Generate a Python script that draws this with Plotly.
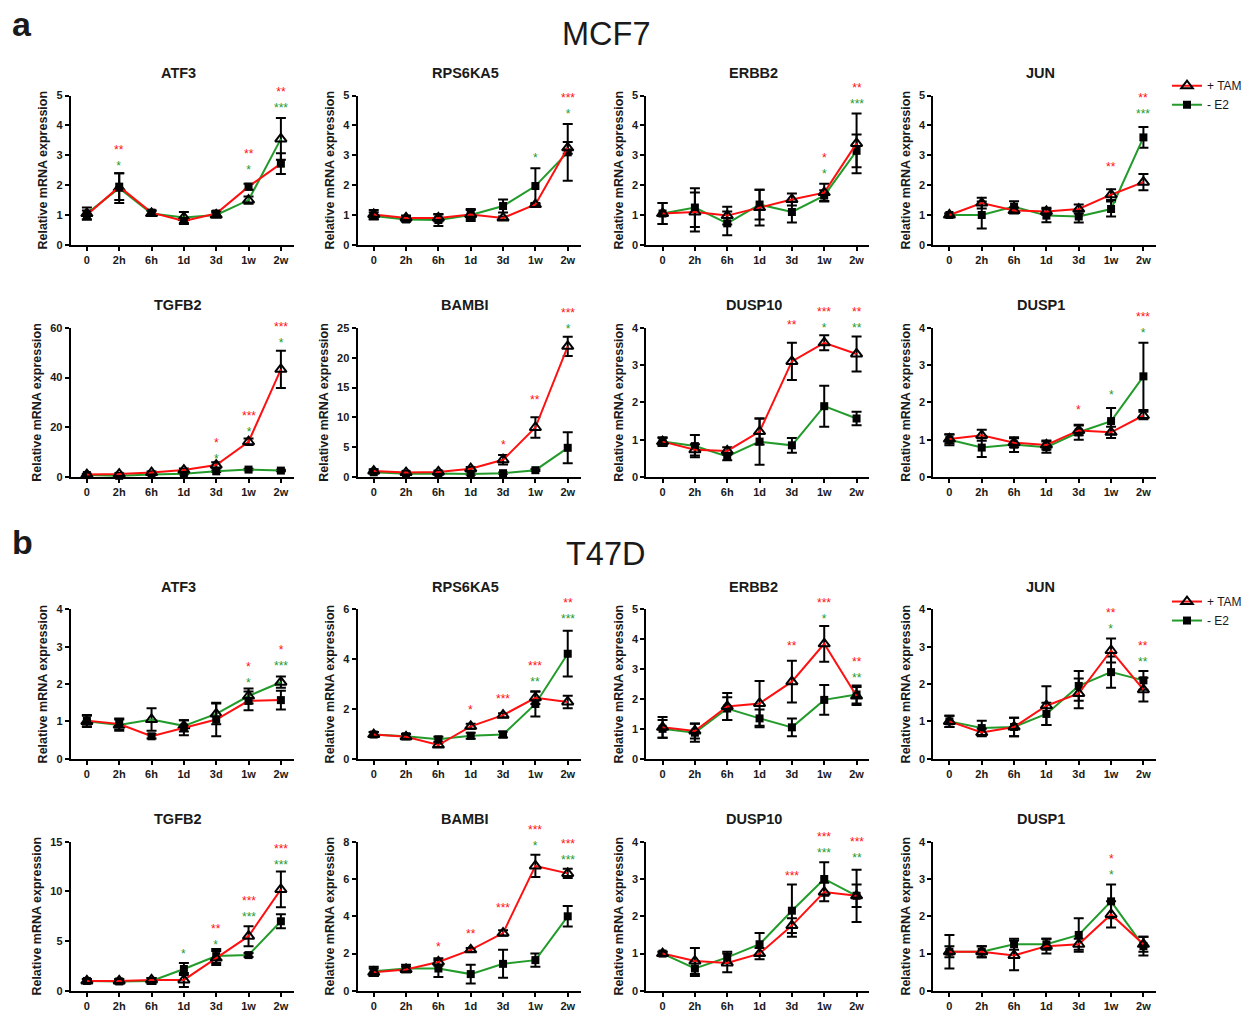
import plotly.graph_objects as go

W, H = 1247, 1013

TIMEPOINTS = ["0", "2h", "6h", "1d", "3d", "1w", "2w"]
SERIES = ["+ TAM", "- E2"]
CELL_LINES = ["MCF7", "T47D"]
PANEL_TAGS = ["a", "b"]

# ---------------- MCF7 ----------------
mcf7_atf3_tam = [1.0, 1.95, 1.08, 0.8, 1.05, 1.95, 2.72]
mcf7_atf3_tam_sem = [0.15, 0.45, 0.08, 0.1, 0.08, 0.1, 0.35]
mcf7_atf3_e2 = [1.05, 1.9, 1.05, 0.92, 1.0, 1.5, 3.55]
mcf7_atf3_e2_sem = [0.2, 0.5, 0.08, 0.18, 0.08, 0.12, 0.7]
mcf7_atf3_sig = [(1, "**", "tam", 3.2), (1, "*", "e2", 2.85), (5, "**", "tam", 3.1),
                 (5, "*", "e2", 2.65), (6, "**", "tam", 5.2), (6, "***", "e2", 4.7)]

mcf7_rps6ka5_tam = [1.02, 0.9, 0.9, 1.02, 0.9, 1.35, 3.25]
mcf7_rps6ka5_tam_sem = [0.15, 0.08, 0.12, 0.15, 0.05, 0.05, 0.2]
mcf7_rps6ka5_e2 = [0.97, 0.85, 0.83, 1.0, 1.3, 1.97, 3.1]
mcf7_rps6ka5_e2_sem = [0.12, 0.08, 0.2, 0.2, 0.22, 0.6, 0.95]
mcf7_rps6ka5_sig = [(5, "*", "e2", 3.0), (6, "***", "tam", 4.93), (6, "*", "e2", 4.55)]

mcf7_erbb2_tam = [1.05, 1.1, 0.98, 1.25, 1.52, 1.75, 3.4]
mcf7_erbb2_tam_sem = [0.35, 0.65, 0.3, 0.6, 0.2, 0.3, 1.0]
mcf7_erbb2_e2 = [1.05, 1.25, 0.72, 1.35, 1.1, 1.65, 3.15]
mcf7_erbb2_e2_sem = [0.35, 0.65, 0.4, 0.5, 0.35, 0.18, 0.55]
mcf7_erbb2_sig = [(5, "*", "tam", 3.0), (5, "*", "e2", 2.5), (6, "**", "tam", 5.3),
                  (6, "***", "e2", 4.85)]

mcf7_jun_tam = [1.0, 1.4, 1.15, 1.12, 1.2, 1.68, 2.1]
mcf7_jun_tam_sem = [0.05, 0.18, 0.1, 0.12, 0.15, 0.18, 0.27]
mcf7_jun_e2 = [1.0, 1.0, 1.28, 0.98, 0.95, 1.2, 3.6]
mcf7_jun_e2_sem = [0.05, 0.45, 0.18, 0.22, 0.2, 0.25, 0.35]
mcf7_jun_sig = [(5, "**", "tam", 2.7), (6, "**", "tam", 5.0), (6, "***", "e2", 4.5)]

mcf7_tgfb2_tam = [1.0, 1.2, 1.8, 2.8, 4.8, 14.2, 43.3]
mcf7_tgfb2_tam_sem = [0.3, 0.3, 0.4, 0.6, 1.2, 1.3, 7.5]
mcf7_tgfb2_e2 = [0.8, 0.5, 1.0, 1.3, 2.3, 3.0, 2.6]
mcf7_tgfb2_e2_sem = [0.2, 0.2, 0.2, 0.2, 0.3, 0.3, 0.3]
mcf7_tgfb2_sig = [(4, "*", "tam", 14.3), (4, "*", "e2", 9.3), (5, "***", "tam", 24.5),
                  (5, "*", "e2", 20.3), (6, "***", "tam", 60.9), (6, "*", "e2", 56.0)]

mcf7_bambi_tam = [1.0, 0.75, 0.85, 1.4, 2.9, 8.3, 21.9]
mcf7_bambi_tam_sem = [0.3, 0.2, 0.2, 0.3, 0.8, 1.7, 1.6]
mcf7_bambi_e2 = [0.8, 0.55, 0.6, 0.5, 0.65, 1.15, 4.9]
mcf7_bambi_e2_sem = [0.2, 0.2, 0.2, 0.1, 0.1, 0.15, 2.6]
mcf7_bambi_sig = [(4, "*", "tam", 5.8), (5, "**", "tam", 13.4), (6, "***", "tam", 27.5),
                  (6, "*", "e2", 25.7)]

mcf7_dusp10_tam = [0.95, 0.73, 0.7, 1.22, 3.1, 3.6, 3.3]
mcf7_dusp10_tam_sem = [0.1, 0.15, 0.1, 0.35, 0.5, 0.2, 0.47]
mcf7_dusp10_e2 = [0.95, 0.83, 0.55, 0.95, 0.85, 1.9, 1.57]
mcf7_dusp10_e2_sem = [0.12, 0.3, 0.1, 0.62, 0.2, 0.55, 0.18]
mcf7_dusp10_sig = [(4, "**", "tam", 4.15), (5, "***", "tam", 4.46), (5, "*", "e2", 4.13),
                   (6, "**", "tam", 4.46), (6, "**", "e2", 4.12)]

mcf7_dusp1_tam = [1.02, 1.12, 0.92, 0.86, 1.25, 1.2, 1.65]
mcf7_dusp1_tam_sem = [0.12, 0.15, 0.12, 0.12, 0.13, 0.15, 0.1]
mcf7_dusp1_e2 = [1.0, 0.79, 0.87, 0.8, 1.2, 1.5, 2.7]
mcf7_dusp1_e2_sem = [0.15, 0.25, 0.2, 0.15, 0.2, 0.35, 0.9]
mcf7_dusp1_sig = [(4, "*", "tam", 1.87), (5, "*", "e2", 2.29), (6, "***", "tam", 4.36),
                  (6, "*", "e2", 3.98)]

# ---------------- T47D ----------------
t47d_atf3_tam = [1.02, 0.93, 0.6, 0.83, 1.05, 1.55, 1.57]
t47d_atf3_tam_sem = [0.15, 0.15, 0.06, 0.2, 0.45, 0.25, 0.25]
t47d_atf3_e2 = [1.0, 0.9, 1.05, 0.88, 1.2, 1.68, 2.05]
t47d_atf3_e2_sem = [0.15, 0.15, 0.3, 0.15, 0.28, 0.2, 0.15]
t47d_atf3_sig = [(5, "*", "tam", 2.47), (5, "*", "e2", 2.16), (6, "*", "tam", 3.0),
                 (6, "***", "e2", 2.58)]

t47d_rps6ka5_tam = [0.97, 0.88, 0.55, 1.3, 1.75, 2.45, 2.28]
t47d_rps6ka5_tam_sem = [0.1, 0.1, 0.08, 0.1, 0.08, 0.25, 0.25]
t47d_rps6ka5_e2 = [0.97, 0.9, 0.78, 0.92, 0.97, 2.2, 4.22]
t47d_rps6ka5_e2_sem = [0.1, 0.1, 0.1, 0.12, 0.12, 0.5, 0.92]
t47d_rps6ka5_sig = [(3, "*", "tam", 2.09), (4, "***", "tam", 2.52), (5, "***", "tam", 3.81),
                    (5, "**", "e2", 3.28), (6, "**", "tam", 6.33), (6, "***", "e2", 5.77)]

t47d_erbb2_tam = [1.05, 0.93, 1.75, 1.85, 2.58, 3.85, 2.1]
t47d_erbb2_tam_sem = [0.35, 0.25, 0.45, 0.75, 0.7, 0.6, 0.3]
t47d_erbb2_e2 = [1.0, 0.87, 1.68, 1.35, 1.05, 1.97, 2.15]
t47d_erbb2_e2_sem = [0.3, 0.3, 0.38, 0.3, 0.3, 0.5, 0.3]
t47d_erbb2_sig = [(4, "**", "tam", 3.89), (5, "***", "tam", 5.24), (5, "*", "e2", 4.88),
                  (6, "**", "tam", 3.28), (6, "**", "e2", 2.89)]

t47d_jun_tam = [1.0, 0.7, 0.85, 1.42, 1.75, 2.9, 1.85]
t47d_jun_tam_sem = [0.15, 0.1, 0.25, 0.52, 0.4, 0.32, 0.32]
t47d_jun_e2 = [1.0, 0.82, 0.85, 1.2, 1.95, 2.32, 2.1]
t47d_jun_e2_sem = [0.15, 0.2, 0.25, 0.3, 0.4, 0.42, 0.25]
t47d_jun_sig = [(5, "**", "tam", 3.96), (5, "*", "e2", 3.6), (6, "**", "tam", 3.09),
                (6, "**", "e2", 2.69)]

t47d_tgfb2_tam = [1.0, 1.0, 1.1, 1.1, 3.3, 5.5, 10.2]
t47d_tgfb2_tam_sem = [0.2, 0.2, 0.2, 0.7, 0.7, 1.0, 1.8]
t47d_tgfb2_e2 = [1.0, 0.95, 1.0, 2.2, 3.5, 3.6, 7.0]
t47d_tgfb2_e2_sem = [0.2, 0.2, 0.3, 0.6, 0.7, 0.2, 0.7]
t47d_tgfb2_sig = [(3, "*", "e2", 4.0), (4, "**", "tam", 6.4), (4, "*", "e2", 5.0),
                  (5, "***", "tam", 9.2), (5, "***", "e2", 7.9), (6, "***", "tam", 14.3),
                  (6, "***", "e2", 13.2)]

t47d_bambi_tam = [1.0, 1.15, 1.55, 2.2, 3.1, 6.7, 6.3]
t47d_bambi_tam_sem = [0.2, 0.15, 0.2, 0.1, 0.15, 0.6, 0.25]
t47d_bambi_e2 = [1.05, 1.2, 1.2, 0.9, 1.45, 1.65, 4.0]
t47d_bambi_e2_sem = [0.25, 0.2, 0.45, 0.5, 0.75, 0.35, 0.55]
t47d_bambi_sig = [(2, "*", "tam", 2.5), (3, "**", "tam", 3.2), (4, "***", "tam", 4.6),
                  (5, "***", "tam", 8.7), (5, "*", "e2", 8.0), (6, "***", "tam", 7.95),
                  (6, "***", "e2", 7.3)]

t47d_dusp10_tam = [1.0, 0.8, 0.75, 1.0, 1.75, 2.65, 2.55]
t47d_dusp10_tam_sem = [0.05, 0.35, 0.25, 0.15, 0.2, 0.25, 0.7]
t47d_dusp10_e2 = [1.0, 0.6, 0.9, 1.25, 2.15, 3.0, 2.55]
t47d_dusp10_e2_sem = [0.05, 0.2, 0.15, 0.3, 0.7, 0.45, 0.3]
t47d_dusp10_sig = [(4, "***", "tam", 3.17), (5, "***", "tam", 4.16), (5, "***", "e2", 3.84),
                   (6, "***", "tam", 4.03), (6, "**", "e2", 3.68)]

t47d_dusp1_tam = [1.05, 1.05, 0.95, 1.2, 1.25, 2.05, 1.25]
t47d_dusp1_tam_sem = [0.45, 0.15, 0.4, 0.2, 0.15, 0.35, 0.2]
t47d_dusp1_e2 = [1.05, 1.05, 1.25, 1.25, 1.5, 2.4, 1.2]
t47d_dusp1_e2_sem = [0.15, 0.15, 0.15, 0.15, 0.45, 0.45, 0.25]
t47d_dusp1_sig = [(5, "*", "tam", 3.57), (5, "*", "e2", 3.25)]

# (gene, tam, tam_sem, e2, e2_sem, significance, y max, y tick step, tam drawn with squares)
PANELS = [
    ("ATF3", mcf7_atf3_tam, mcf7_atf3_tam_sem, mcf7_atf3_e2, mcf7_atf3_e2_sem, mcf7_atf3_sig, 5, 1, True),
    ("RPS6KA5", mcf7_rps6ka5_tam, mcf7_rps6ka5_tam_sem, mcf7_rps6ka5_e2, mcf7_rps6ka5_e2_sem, mcf7_rps6ka5_sig, 5, 1, False),
    ("ERBB2", mcf7_erbb2_tam, mcf7_erbb2_tam_sem, mcf7_erbb2_e2, mcf7_erbb2_e2_sem, mcf7_erbb2_sig, 5, 1, False),
    ("JUN", mcf7_jun_tam, mcf7_jun_tam_sem, mcf7_jun_e2, mcf7_jun_e2_sem, mcf7_jun_sig, 5, 1, False),
    ("TGFB2", mcf7_tgfb2_tam, mcf7_tgfb2_tam_sem, mcf7_tgfb2_e2, mcf7_tgfb2_e2_sem, mcf7_tgfb2_sig, 60, 20, False),
    ("BAMBI", mcf7_bambi_tam, mcf7_bambi_tam_sem, mcf7_bambi_e2, mcf7_bambi_e2_sem, mcf7_bambi_sig, 25, 5, False),
    ("DUSP10", mcf7_dusp10_tam, mcf7_dusp10_tam_sem, mcf7_dusp10_e2, mcf7_dusp10_e2_sem, mcf7_dusp10_sig, 4, 1, False),
    ("DUSP1", mcf7_dusp1_tam, mcf7_dusp1_tam_sem, mcf7_dusp1_e2, mcf7_dusp1_e2_sem, mcf7_dusp1_sig, 4, 1, False),
    ("ATF3", t47d_atf3_tam, t47d_atf3_tam_sem, t47d_atf3_e2, t47d_atf3_e2_sem, t47d_atf3_sig, 4, 1, True),
    ("RPS6KA5", t47d_rps6ka5_tam, t47d_rps6ka5_tam_sem, t47d_rps6ka5_e2, t47d_rps6ka5_e2_sem, t47d_rps6ka5_sig, 6, 2, False),
    ("ERBB2", t47d_erbb2_tam, t47d_erbb2_tam_sem, t47d_erbb2_e2, t47d_erbb2_e2_sem, t47d_erbb2_sig, 5, 1, False),
    ("JUN", t47d_jun_tam, t47d_jun_tam_sem, t47d_jun_e2, t47d_jun_e2_sem, t47d_jun_sig, 4, 1, False),
    ("TGFB2", t47d_tgfb2_tam, t47d_tgfb2_tam_sem, t47d_tgfb2_e2, t47d_tgfb2_e2_sem, t47d_tgfb2_sig, 15, 5, False),
    ("BAMBI", t47d_bambi_tam, t47d_bambi_tam_sem, t47d_bambi_e2, t47d_bambi_e2_sem, t47d_bambi_sig, 8, 2, False),
    ("DUSP10", t47d_dusp10_tam, t47d_dusp10_tam_sem, t47d_dusp10_e2, t47d_dusp10_e2_sem, t47d_dusp10_sig, 4, 1, False),
    ("DUSP1", t47d_dusp1_tam, t47d_dusp1_tam_sem, t47d_dusp1_e2, t47d_dusp1_e2_sem, t47d_dusp1_sig, 4, 1, False),
]

RED = "#ff1010"
GREEN = "#239b2b"
INK = "#1a1a1a"
FONT = "Liberation Sans, Arial, sans-serif"

# Pixel geometry of the 4x4 grid of plot areas
COL_LEFT = [71, 359, 649, 937]
PLOT_W = 224
ROW_TOP = [90.7, 325.7, 610.7, 845.7]
PLOT_H = 151


def px_x(x):
    return x / W


def px_y(y):
    return 1 - y / H


TRIANGLE = dict(symbol="triangle-up-open", size=10, color="black", line=dict(width=2, color="black"))
SQUARE = dict(symbol="square", size=8, color="black")

fig = go.Figure()
layout = dict(
    width=W, height=H, margin=dict(l=0, r=0, t=0, b=0),
    paper_bgcolor="white", plot_bgcolor="white",
    font=dict(family=FONT, color=INK),
    showlegend=True,
)
annotations = []

for i, (gene, tam, tam_sem, e2, e2_sem, sig, ymax, dtick, tam_square) in enumerate(PANELS):
    n = i + 1
    row, col = divmod(i, 4)
    suffix = "" if n == 1 else str(n)
    xa, ya = f"x{suffix}", f"y{suffix}"
    x0, x1 = px_x(COL_LEFT[col]), px_x(COL_LEFT[col] + PLOT_W)
    y1, y0 = px_y(ROW_TOP[row]), px_y(ROW_TOP[row] + PLOT_H)

    tam_marker = SQUARE if tam_square else TRIANGLE
    e2_marker = TRIANGLE if tam_square else SQUARE

    legend_id = None
    if gene == "JUN":
        legend_id = "legend" if row == 0 else "legend2"

    for name, vals, sem, color, marker in [
        (SERIES[1], e2, e2_sem, GREEN, e2_marker),
        (SERIES[0], tam, tam_sem, RED, tam_marker),
    ]:
        fig.add_trace(go.Scatter(
            x=TIMEPOINTS, y=vals, xaxis=xa, yaxis=ya, name=name,
            mode="lines+markers", line=dict(color=color, width=2),
            marker=marker, cliponaxis=False,
            error_y=dict(type="data", array=sem, color="black", thickness=2, width=5),
            showlegend=legend_id is not None,
            legend=legend_id if legend_id else "legend",
            legendrank=1 if name == SERIES[0] else 2,
        ))

    axis_font = dict(family=FONT, size=11, color=INK, weight="bold")
    layout[f"xaxis{suffix}"] = dict(
        domain=[x0, x1], anchor=ya, type="category", range=[-0.5, 6.4],
        showline=True, linecolor="black", linewidth=2, ticks="outside", ticklen=4,
        tickwidth=2, tickcolor="black", showgrid=False, zeroline=False, tickfont=axis_font,
        fixedrange=True,
    )
    layout[f"yaxis{suffix}"] = dict(
        domain=[y0, y1], anchor=xa, range=[0, ymax], tick0=0, dtick=dtick,
        showline=True, linecolor="black", linewidth=2, ticks="outside", ticklen=4,
        tickwidth=2, tickcolor="black", showgrid=False, zeroline=False, tickfont=axis_font,
        title=dict(text="Relative mRNA expression", standoff=6,
                   font=dict(family=FONT, size=12.5, color=INK, weight="bold")),
        fixedrange=True,
    )

    annotations.append(dict(
        text=gene, xref="paper", yref="paper", x=(x0 + x1) / 2 - 4 / W, y=px_y(ROW_TOP[row] - 23),
        showarrow=False, font=dict(family=FONT, size=14.5, color=INK, weight="bold"),
        xanchor="center", yanchor="middle",
    ))

    # significance marks per time point: red (+TAM) above green (-E2), stacked in one label;
    # placed in axis-domain units so marks above the axis top still show
    by_time = {}
    for idx, stars, series, yv in sig:
        by_time.setdefault(idx, {})[series] = (stars, yv)
    for idx, marks in by_time.items():
        lines = []
        heights = []
        for series, color in (("tam", RED), ("e2", GREEN)):
            if series in marks:
                stars, yv = marks[series]
                lines.append(f"<span style='color:{color}'>{stars}</span>")
                heights.append(yv)
        annotations.append(dict(
            text="<br>".join(lines), xref=xa, yref=f"{ya} domain", x=TIMEPOINTS[idx],
            y=sum(heights) / len(heights) / ymax, showarrow=False,
            font=dict(family=FONT, size=12, color=INK),
            xanchor="center", yanchor="middle", yshift=-3,
        ))

for k, (cell, tag) in enumerate(zip(CELL_LINES, PANEL_TAGS)):
    top = [28, 555][k]
    annotations.append(dict(
        text=cell, xref="paper", yref="paper", x=px_x(608), y=px_y(top), showarrow=False,
        font=dict(family=FONT, size=32.5, color=INK), xanchor="center", yanchor="middle",
    ))
    annotations.append(dict(
        text=tag, xref="paper", yref="paper", x=px_x(10), y=px_y([18, 542][k]), showarrow=False,
        font=dict(family=FONT, size=34, color=INK, weight="bold"),
        xanchor="left", yanchor="middle",
    ))

legend_style = dict(
    xanchor="left", yanchor="top", bgcolor="rgba(0,0,0,0)", borderwidth=0,
    font=dict(family=FONT, size=12, color=INK), tracegroupgap=0,
    itemwidth=30, traceorder="normal",
)
layout["legend"] = dict(x=px_x(1172), y=px_y(66), **legend_style)
layout["legend2"] = dict(x=px_x(1172), y=px_y(588), **legend_style)
layout["annotations"] = annotations

fig.update_layout(**layout)
fig.write_html("out.html")
